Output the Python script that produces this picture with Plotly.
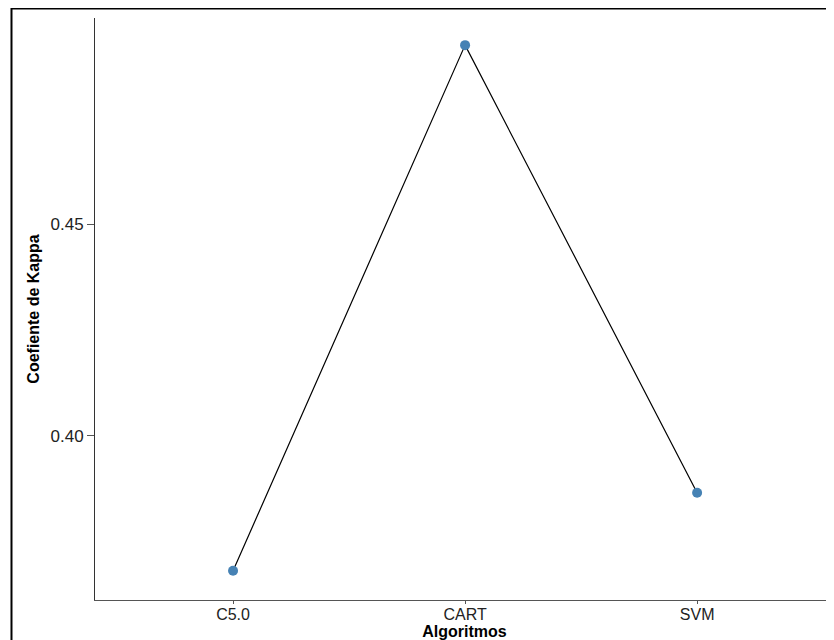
import plotly.graph_objects as go

algoritmos = ["C5.0", "CART", "SVM"]
kappa = [0.3682, 0.4922, 0.3866]
y_ticks = [0.40, 0.45]
y_tick_labels = ["0.40", "0.45"]

fig = go.Figure()
fig.add_trace(go.Scatter(
    x=algoritmos, y=kappa, mode="lines",
    line=dict(color="black", width=1.2), showlegend=False, hoverinfo="skip"))
fig.add_trace(go.Scatter(
    x=algoritmos, y=kappa, mode="markers",
    marker=dict(color="#4682B4", size=10), showlegend=False))

base_font = "Liberation Sans, Arial, sans-serif"

# the page body has an 8px margin, so the figure is 8px smaller than the window
fig.update_layout(
    width=826, height=632,
    margin=dict(l=87, r=0, t=10, b=40),
    plot_bgcolor="white", paper_bgcolor="white",
    font=dict(family=base_font, color="#222222"),
    xaxis=dict(
        type="category", range=[-0.595, 2.59],
        showline=True, linecolor="#555555", linewidth=1,
        ticks="outside", ticklen=3, tickcolor="#555555",
        ticklabelstandoff=-3,
        showgrid=False, zeroline=False,
        tickfont=dict(size=16, color="#222222"),
        title=dict(text="<b>Algoritmos</b>", standoff=1,
                   font=dict(size=16, color="black", family=base_font)),
    ),
    yaxis=dict(
        range=[0.3613, 0.4986],
        tickvals=y_ticks, ticktext=y_tick_labels,
        showline=True, linecolor="#333333", linewidth=1,
        ticks="outside", ticklen=7, tickcolor="#555555",
        showgrid=False, zeroline=False,
        tickfont=dict(size=17, color="#222222"),
        title=dict(text="<b>Coefiente de Kappa</b>", standoff=6,
                   font=dict(size=16, color="black", family=base_font)),
    ),
)

fig.add_shape(type="rect", xref="paper", yref="paper",
              x0=-0.113, x1=1.05, y0=-0.2, y1=1.0163,
              line=dict(color="black", width=2), fillcolor="rgba(0,0,0,0)",
              layer="above")

fig.write_html("out.html")
